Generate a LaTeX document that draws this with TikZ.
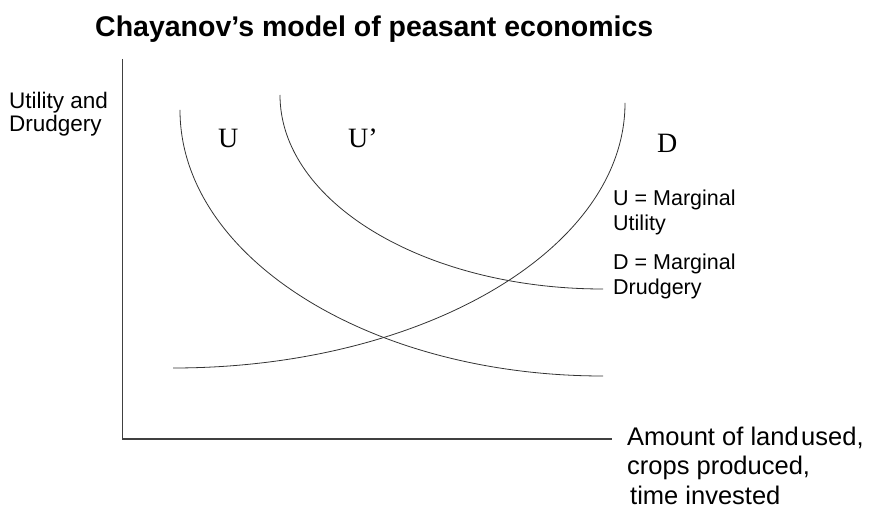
\documentclass[tikz,border=0pt]{standalone}
\usepackage{fontspec}
\setmainfont{Liberation Sans}
\newfontfamily\curvefont{Liberation Serif}

\begin{document}
\begin{tikzpicture}[
  x=1pt, y=-1pt,
  title/.style={anchor=base west, inner sep=0pt, font=\fontsize{28.5}{32}\selectfont\bfseries},
  label/.style={anchor=base west, inner sep=0pt, align=left},
  ylab/.style={label, font=\fontsize{22.5}{23}\selectfont},
  legend/.style={label, font=\fontsize{21.5}{25}\selectfont},
  xlab/.style={label, font=\fontsize{25.5}{29.5}\selectfont},
  letter/.style={anchor=base west, inner sep=0pt, font=\curvefont\fontsize{28}{30}\selectfont},
  axis/.style={line width=1.2pt, draw=black!75},
  curve/.style={line width=0.8pt, draw=black!80}
]
\useasboundingbox (0,0) rectangle (870,510);

\node[title] (title) at (95,37) {Chayanov’s model of peasant economics};

% axes
\coordinate (origin) at (122.5,439);
\coordinate (ytop) at (122.5,59);
\coordinate (xend) at (612,439);
\draw[axis] (ytop) -- (origin) -- (xend);

% multi-line labels sit on the baseline of their last line
\node[ylab] (ylabel) at (9,132) {Utility and\\Drudgery};
\node[xlab] (xlabel) at (627,504)
  {Amount of land\hspace{0.1em}used,\\crops produced,\\\hspace{3pt}time invested};

% curves
\draw[curve] (180,110) arc[start angle=180, end angle=90, x radius=423, y radius=266];
\draw[curve] (280,95) arc[start angle=180, end angle=90, x radius=323, y radius=194];
\draw[curve] (173,368) arc[start angle=90, end angle=0, x radius=452, y radius=265];

\node[letter] (u) at (218,148) {U};
\node[letter] (uprime) at (348,148) {U’};
\node[letter] (d) at (657,153) {D};

\node[legend] (ulegend) at (613,231) {U = Marginal\\Utility};
\node[legend] (dlegend) at (613,295) {D = Marginal\\Drudgery};

\end{tikzpicture}
\end{document}
